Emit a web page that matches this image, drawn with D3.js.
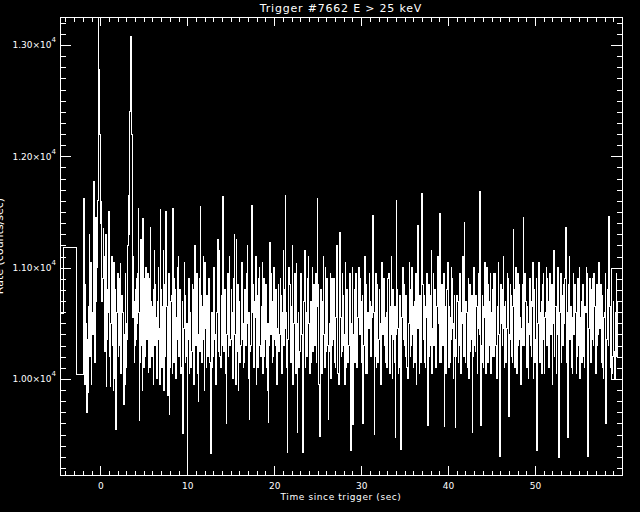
<!DOCTYPE html>
<html>
<head>
<meta charset="utf-8">
<script src="https://cdn.jsdelivr.net/npm/d3@7"></script>
<style>
  body { margin: 0; background: #000; }
  svg text { font-family: "DejaVu Sans", sans-serif; fill: #fff; }
</style>
</head>
<body>
<svg id="chart" width="640" height="512"></svg>
<script>
// Labels and axis ranges.
var title = "Trigger #7662 E > 25 keV";
var xTitle = "Time since trigger (sec)";
var yTitle = "Rate (counts/sec)";
var xRange = [-4.63, 60];
var yRange = [9137, 13252];
var xMajor = [0, 10, 20, 30, 40, 50];
var yMajor = [10000, 11000, 12000, 13000];

// Coarse bins before the fine data starts.
var preEdges = [-5.2, -4.2, -2.74, -1.92];
var preRate = [10592, 11177, 10042];

// Fine bins (64 ms), one row = 32 bins.
var fineStart = -1.92, fineStep = 0.064;
var fineRate = [
  11620,10300,9950,10850,10500,10100,9700,10350,9880,10650,11300,10200,10450,11050,9950,10600,10400,11200,11770,10250,10150,11100,11450,10700,11000,11600,13400,12500,12780,12200,12000,11400,
  11590,10700,10900,11350,11100,10400,10250,11000,11300,9930,10350,10800,10600,11500,11250,10200,9930,10500,10650,11100,10300,9900,11050,10450,10000,10800,9550,10150,10600,10950,10200,10500,
  10300,10900,11040,10050,10250,10750,10600,10150,9770,10400,9950,10950,10500,10100,10350,11200,11650,11300,12310,12400,13080,13080,12250,12200,10550,11100,10700,10150,10300,10800,10350,10900,
  10500,10950,11530,10600,9630,10150,10850,11250,10300,9900,11445,10450,10100,10900,10700,10200,11000,10350,10400,10950,10060,10550,10900,10100,11365,10700,10200,10550,10650,9950,10800,11150,
  10300,10850,10550,10000,10150,10700,11000,10350,10450,9950,11520,10800,10100,10500,10650,11150,9900,10400,10850,10200,11500,10650,10300,9850,10450,10950,9680,10250,10100,10700,10750,10050,
  11530,10500,10150,10900,10800,10250,10000,10550,10350,11000,11100,10200,10300,10800,10550,10050,10100,10700,9510,10300,10450,11050,10750,10150,10200,10500,9050,10350,10400,10900,10050,10600,
  10550,10100,10250,10850,10800,10300,9950,10500,11200,10600,10300,10950,10450,10050,9800,10400,10900,10250,11545,10750,10150,10550,10650,11100,10350,9900,11050,10450,10100,10750,10500,10200,
  10300,10900,10700,10150,9330,10450,10600,10100,10200,10850,11000,10350,10400,9950,10050,10600,10700,11250,10250,10650,11150,10200,10100,10750,10500,10300,11640,10850,10250,10500,10800,10050,
  9600,10400,10500,10950,10200,10700,11100,10300,10350,10800,10600,10050,10000,10500,10900,11300,10400,9950,11250,10550,10250,10850,9900,10450,10700,10150,10300,11000,11050,10350,10500,10100,
  10150,10650,10800,10300,10400,10950,11200,10500,10000,10600,9640,10250,10300,10800,11560,10600,10850,10200,10100,10700,10550,11100,9950,10400,10750,10100,10350,10900,11000,10300,10200,10650,
  10500,11050,10050,10550,10900,10200,10350,10850,10650,10100,9900,10500,9610,10300,11230,10650,10400,10950,10700,10150,10200,10600,11000,10350,10300,10800,10550,9950,10050,10450,10850,10250,
  10400,10900,10750,10150,10050,10600,10550,11150,10300,10800,11650,10450,10600,10100,9340,10350,10450,11000,10850,10300,10150,10550,10650,11200,9950,10400,10500,10950,10350,10050,11040,10500,
  9520,10350,10600,10100,10250,10800,10950,10400,10400,9950,9340,10450,10700,11150,10100,10600,10550,10200,10350,10900,11100,10500,10050,10650,10700,10150,10450,11000,10250,10750,10850,10300,
  10500,10950,10150,10650,11620,10850,10350,9950,9480,10400,10800,10200,10050,10700,10600,11100,10400,10100,11000,10450,10250,10900,10700,10300,9640,10250,10500,10950,10000,10550,10900,10300,
  10350,10900,10650,10150,10100,10550,10850,11200,10450,10050,9950,10500,11320,10700,10550,10200,10250,10950,10750,10300,10400,9950,11050,10500,10100,10800,10600,10150,10300,10700,10950,10450,
  9360,10350,10500,11000,9590,10400,10800,10150,10300,10950,10600,10100,10100,10550,11000,10500,10400,10900,10700,10200,10150,10750,9600,10300,10550,11100,10350,10050,10850,10450,10050,10600,
  10450,10950,10700,10250,10200,10650,10550,11150,11470,10600,9500,10200,10600,10950,10100,10500,10850,10150,10350,10800,10500,10100,9950,10600,11050,10450,10400,10900,10750,10300,10150,10550,
  10600,10100,10300,10900,10950,10450,10050,10550,10650,11100,10400,10000,10800,10350,10150,10650,9470,10400,11600,10800,10450,10050,10100,10700,10750,10300,9370,10150,10550,11000,10350,10700,
  10850,10300,10200,10750,10600,10100,10000,10500,10500,11050,10800,10200,10300,10900,11000,10400,10100,10650,10700,10150,10400,10950,9950,10450,11380,10750,10450,10050,10750,10550,10150,10900,
  11670,10850,10350,10700,10750,10150,10100,10650,10550,10950,9580,10300,10850,10200,10300,10750,10600,11150,10050,10450,10950,10300,10400,10800,10700,10100,10200,10650,11100,10500,10500,10150,
  11490,10700,10150,10600,10850,10300,10450,10950,9570,10200,10650,10050,10300,10800,11050,10400,10100,10650,10550,10150,10350,11000,10900,10450,10000,10500,10750,10200,9560,10350,10200,10750,
  10700,10150,10300,10850,10950,10400,10050,10600,10500,11100,10800,10200,11410,10650,10150,10700,10600,10100,10400,10900,10000,10500,10850,10250,10350,10750,9515,10200,10550,11000,10700,10300,
  10250,10750,10650,10050,10450,10950,10900,10400,11680,10700,9580,10300,10750,10150,10100,10650,10550,11050,10350,10050,11000,10500,10150,10850,10700,10300,10400,10950,10050,10600,10800,10200,
  10500,10950,10200,10700,10950,10300,10000,10600,10650,11050,10400,10050,9300,10350,10850,10500,10300,10800,11100,10450,10100,10650,10700,10150,10450,10950,10900,10300,9660,10400,10350,10850,
  10750,10200,10150,10650,11340,10800,10450,10100,10600,11000,10050,10500,10950,10300,10350,10850,10550,10150,9950,10450,10850,10300,11455,10750,10300,10950,10700,10150,10100,10650,10500,10000,
  10400,10850,10900,10300,10200,10700,10650,11050,10000,10400,10800,10150,10350,10900,9360,10350,10500,10950,11050,10450,10150,10600,10700,10050,10450,10850,10950,10350,10050,10550,10600,11000,
  10300,10900,10700,10150,10100,10600,10950,10400,10450,10850,9950,10500,10800,11150,10200,10650,10650,10050,10400,10900,11000,10350,9290,10250,10600,10950,10150,10700,10750,10300,10350,10850,
  10500,10900,11365,10750,10150,10600,9470,10300,10850,11100,10350,10650,10650,10100,10050,10550,10950,10400,10400,10850,10600,10050,10200,10700,10900,10300,10450,11000,10000,10550,10700,10150,
  10300,10850,10750,10200,10100,10650,10600,11000,10950,10350,9300,10300,10450,10900,10700,10150,10200,10800,10900,10350,10300,10950,10650,10100,10050,10600,10850,10300,10400,10900,11050,10450,
  10450,10850,10150,10650,10750,10100,10000,10550,10600,10950,9600,10250,10350,10800,10800,10300,11460,10650,10100,10450,10000,10050,10050,10200,10700,10250,10000,10550,10600,10950,10200,10700
];

// Coarse bin after the fine data.
var postFrom = 10000;
var postEdges = [58.76, 60.5];
var postRate = [10996];

var margin = {top: 17, right: 18, bottom: 37, left: 60};
var W = 640, H = 512;
var svg = d3.select('#chart');

var x = d3.scaleLinear().domain(xRange).range([margin.left, W - margin.right]);
var y = d3.scaleLinear().domain(yRange).range([H - margin.bottom, margin.top]);

// Clip the data to the plot box.
svg.append('clipPath').attr('id', 'box')
  .append('rect')
  .attr('x', margin.left).attr('y', margin.top)
  .attr('width', W - margin.left - margin.right)
  .attr('height', H - margin.top - margin.bottom);

// Build one step series: coarse bins, then the fine bins.
var pts = [];
preRate.forEach(function(v, i){ pts.push([preEdges[i], v]); });
fineRate.forEach(function(v, i){ pts.push([fineStart + i * fineStep, v]); });
pts.push([fineStart + fineRate.length * fineStep, fineRate[fineRate.length - 1]]);

var step = d3.line()
  .x(function(d){ return x(d[0]); })
  .y(function(d){ return y(d[1]); })
  .curve(d3.curveStepAfter);

var plot = svg.append('g').attr('clip-path', 'url(#box)');
plot.append('path')
  .datum(pts)
  .attr('d', step)
  .attr('fill', 'none')
  .attr('stroke', '#fff')
  .attr('stroke-width', 1)
  .attr('shape-rendering', 'crispEdges');

var post = [[postEdges[0], postFrom]];
postRate.forEach(function(v, i){ post.push([postEdges[i], v]); });
post.push([postEdges[postEdges.length - 1], postRate[postRate.length - 1]]);
plot.append('path')
  .datum(post)
  .attr('d', step)
  .attr('fill', 'none')
  .attr('stroke', '#fff')
  .attr('stroke-width', 1)
  .attr('shape-rendering', 'crispEdges');

// Axes: ticks point into the box on all four sides.
var xMinor = d3.range(-4, 61, 1);
var yMinor = d3.range(9200, 13300, 100);

function styleAxis(g){
  g.attr('color', '#fff')
   .attr('font-family', '"DejaVu Sans", sans-serif')
   .attr('font-size', 9)
   .attr('shape-rendering', 'crispEdges');
  g.select('.domain').remove();
}

var yb = H - margin.bottom, yt = margin.top, xl = margin.left, xr = W - margin.right;

svg.append('g').attr('transform', 'translate(0,' + yb + ')')
  .call(d3.axisBottom(x).tickValues(xMinor).tickSize(-4.5).tickSizeOuter(0).tickFormat(''))
  .call(styleAxis);
svg.append('g').attr('transform', 'translate(0,' + yb + ')')
  .call(d3.axisBottom(x).tickValues(xMajor).tickSize(-9).tickSizeOuter(0).tickPadding(8))
  .call(styleAxis);
svg.append('g').attr('transform', 'translate(0,' + yt + ')')
  .call(d3.axisTop(x).tickValues(xMinor).tickSize(-4.5).tickSizeOuter(0).tickFormat(''))
  .call(styleAxis);
svg.append('g').attr('transform', 'translate(0,' + yt + ')')
  .call(d3.axisTop(x).tickValues(xMajor).tickSize(-9).tickSizeOuter(0).tickFormat(''))
  .call(styleAxis);

svg.append('g').attr('transform', 'translate(' + xl + ',0)')
  .call(d3.axisLeft(y).tickValues(yMinor).tickSize(-5.5).tickSizeOuter(0).tickFormat(''))
  .call(styleAxis);
var yAx = svg.append('g').attr('transform', 'translate(' + xl + ',0)')
  .call(d3.axisLeft(y).tickValues(yMajor).tickSize(-11).tickSizeOuter(0).tickPadding(4)
    .tickFormat(function(d){ return (d / 1e4).toFixed(2) + '\u00d710'; }))
  .call(styleAxis);
yAx.selectAll('.tick text').append('tspan')
  .attr('dy', -6).attr('font-size', 7).text('4');
svg.append('g').attr('transform', 'translate(' + xr + ',0)')
  .call(d3.axisRight(y).tickValues(yMinor).tickSize(-5.5).tickSizeOuter(0).tickFormat(''))
  .call(styleAxis);
svg.append('g').attr('transform', 'translate(' + xr + ',0)')
  .call(d3.axisRight(y).tickValues(yMajor).tickSize(-11).tickSizeOuter(0).tickFormat(''))
  .call(styleAxis);

// Plot box.
svg.append('rect')
  .attr('x', xl + 0.5).attr('y', yt + 0.5)
  .attr('width', xr - xl).attr('height', yb - yt)
  .attr('fill', 'none').attr('stroke', '#fff').attr('stroke-width', 1);

// Titles. The y title sits mostly past the left edge, as in the original.
svg.append('text').attr('x', (xl + xr) / 2).attr('y', 12)
  .attr('text-anchor', 'middle').attr('font-size', 11)
  .attr('letter-spacing', 0.8).text(title);
svg.append('text').attr('x', (xl + xr) / 2).attr('y', 500)
  .attr('text-anchor', 'middle').attr('font-size', 9)
  .attr('letter-spacing', 0.6).text(xTitle);
svg.append('text').attr('transform', 'translate(3,' + (yt + yb) / 2 + ') rotate(-90)')
  .attr('text-anchor', 'middle').attr('font-size', 11).text(yTitle);
</script>
</body>
</html>
